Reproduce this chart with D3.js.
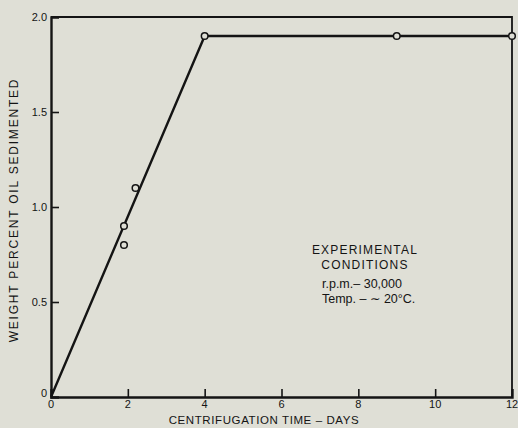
<!DOCTYPE html>
<html>
<head>
    <meta charset="utf-8">
    <title>Oil sedimentation</title>
    <style>
        html, body { margin: 0; padding: 0; background: #dfdfd6; }
        svg { display: block; }
        text { font-family: "Liberation Sans", "DejaVu Sans", sans-serif; fill: #141414; }
    </style>
</head>
<body>
    <div id="chart"></div>
    <script src="https://d3js.org/d3.v7.min.js"></script>
    <script>
        // 資料
        const curveDays = [0, 4, 12];
        const curveValues = [0, 1.9, 1.9];
        const pointDays = [1.9, 1.9, 2.2, 4, 9, 12];
        const pointValues = [0.9, 0.8, 1.1, 1.9, 1.9, 1.9];
        const xTicks = [0, 2, 4, 6, 8, 10, 12];
        const yTicks = [0, 0.5, 1.0, 1.5, 2.0];
        const yTickLabels = ["0", "0.5", "1.0", "1.5", "2.0"];
        const noteLines = ["EXPERIMENTAL", "CONDITIONS"];
        const condLines = ["r.p.m.– 30,000", "Temp. – ∼ 20°C."];

        const width = 518, height = 428;
        const ink = "#141414";
        const bg = "#dfdfd6";

        const svg = d3.select('#chart').append('svg')
            .attr('width', width)
            .attr('height', height);

        const x = d3.scaleLinear().domain([0, 12]).range([51, 512]);
        const y = d3.scaleLinear().domain([0, 2]).range([397, 17]);

        // 外框
        svg.append('path')
            .attr('d', `M${x(0)},${y(2)}H${x(12)}V${y(0)}`)
            .attr('fill', 'none')
            .attr('stroke', ink)
            .attr('stroke-width', 1.8);

        // 座標軸
        const xAxis = svg.append('g')
            .attr('transform', `translate(0,${y(0)})`)
            .call(d3.axisBottom(x).tickValues(xTicks).tickSize(-8).tickFormat(''));
        const yAxis = svg.append('g')
            .attr('transform', `translate(${x(0)},0)`)
            .call(d3.axisLeft(y).tickValues(yTicks).tickSize(-8).tickFormat(''));
        [xAxis, yAxis].forEach(a => {
            a.select('.domain').attr('stroke', ink).attr('stroke-width', 2.4);
            a.selectAll('.tick line').attr('stroke', ink).attr('stroke-width', 1.6);
        });
        xAxis.selectAll('.tick').filter(d => d === 0 || d === 12).select('line').remove();
        yAxis.selectAll('.tick').filter(d => d === 0 || d === 2).select('line').remove();

        // 刻度標籤
        svg.append('g').selectAll('text')
            .data(xTicks)
            .enter().append('text')
            .attr('x', d => x(d))
            .attr('y', y(0) + 11)
            .attr('text-anchor', 'middle')
            .style('font-size', '11px')
            .text(d => d);

        svg.append('g').selectAll('text')
            .data(yTicks)
            .enter().append('text')
            .attr('x', x(0) - 4)
            .attr('y', d => y(d) + (d === 0 ? 0 : 4))
            .attr('text-anchor', 'end')
            .style('font-size', '11px')
            .text((d, i) => yTickLabels[i]);

        // 座標軸標題
        svg.append('text')
            .attr('x', 264)
            .attr('y', 424)
            .attr('text-anchor', 'middle')
            .style('font-size', '11.5px')
            .style('letter-spacing', '0.6px')
            .text('CENTRIFUGATION TIME – DAYS');

        svg.append('text')
            .attr('transform', `translate(18,210) rotate(-90)`)
            .attr('text-anchor', 'middle')
            .style('font-size', '12px')
            .style('letter-spacing', '1.8px')
            .text('WEIGHT PERCENT OIL SEDIMENTED');

        // 曲線
        svg.append('path')
            .datum(curveDays.map((d, i) => [d, curveValues[i]]))
            .attr('d', d3.line().x(d => x(d[0])).y(d => y(d[1])))
            .attr('fill', 'none')
            .attr('stroke', ink)
            .attr('stroke-width', 2.4);

        // 資料點
        svg.append('g').selectAll('circle')
            .data(pointDays.map((d, i) => [d, pointValues[i]]))
            .enter().append('circle')
            .attr('cx', d => x(d[0]))
            .attr('cy', d => y(d[1]))
            .attr('r', 3.3)
            .attr('fill', bg)
            .attr('stroke', ink)
            .attr('stroke-width', 1.5);

        // 實驗條件
        svg.append('g').selectAll('text')
            .data(noteLines)
            .enter().append('text')
            .attr('x', 365)
            .attr('y', (d, i) => 254 + i * 15)
            .attr('text-anchor', 'middle')
            .style('font-size', '12px')
            .style('letter-spacing', '1.2px')
            .text(d => d);

        svg.append('g').selectAll('text')
            .data(condLines)
            .enter().append('text')
            .attr('x', 322)
            .attr('y', (d, i) => 288 + i * 15)
            .style('font-size', '12.5px')
            .text(d => d);
    </script>
</body>
</html>
